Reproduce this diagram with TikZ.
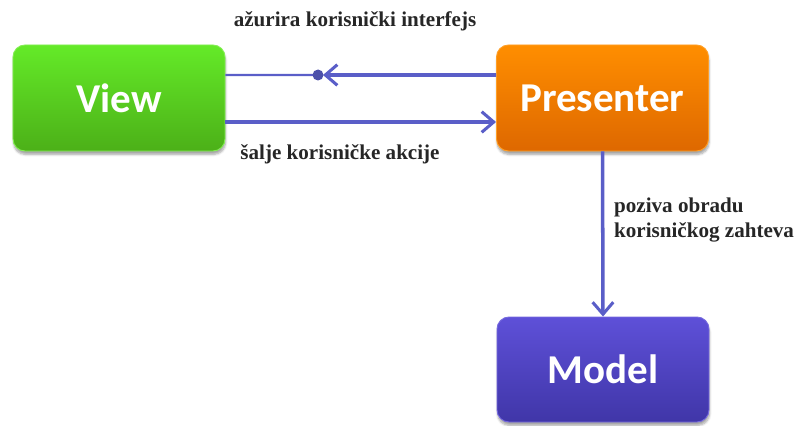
\documentclass[tikz,border=0pt]{standalone}
\usepackage{fontspec}
\setmainfont{Liberation Serif}
\newfontfamily\boxfont{Carlito}
\usetikzlibrary{arrows.meta,shadows.blur,calc}
\definecolor{linecol}{RGB}{90,94,200}
\definecolor{gtop}{RGB}{100,234,40}
\definecolor{gbot}{RGB}{76,176,24}
\definecolor{otop}{RGB}{255,142,0}
\definecolor{obot}{RGB}{222,104,0}
\definecolor{ptop}{RGB}{94,80,216}
\definecolor{pbot}{RGB}{64,54,168}
\tikzset{
  mvpbox/.style={rounded corners=0.36cm, minimum width=6.36cm, minimum height=3.18cm,
    font=\boxfont\bfseries\fontsize{35}{40}\selectfont, text=white,
    blur shadow={shadow xshift=0.5pt, shadow yshift=-3pt, shadow opacity=35, shadow blur steps=6}},
  conn/.style={draw=linecol, line width=2.6pt},
  tipb/.style={-{Straight Barb[length=0.36cm,width=0.62cm,line width=2.6pt]}},
  lbl/.style={font=\bfseries\fontsize{18}{21.5}\selectfont, text=black!85}
}
\begin{document}
\begin{tikzpicture}[x=0.03cm,y=-0.03cm]
\useasboundingbox (0,0) rectangle (795,425);
\node[mvpbox, top color=gtop, bottom color=gbot, draw=gtop!80!white, line width=0.8pt] (V) at (119,98) {View};
\node[mvpbox, top color=otop, bottom color=obot, draw=otop!85!white, line width=0.8pt] (P) at (602.5,98) {Presenter};
\node[mvpbox, top color=ptop, bottom color=pbot, draw=ptop!85!white, line width=0.8pt, minimum height=3.15cm] (M) at (603,369.5) {Model};
\coordinate (dot) at (318,75);
% top: presenter -> view (updates UI)
\draw[conn, line width=3.4pt, tipb, shorten >=0.15cm] ([yshift=0.69cm]P.west) -- (dot);
\draw[conn, line width=2pt] ([yshift=0.69cm]V.east) -- (dot);
\fill[linecol!85!black] (dot) circle (0.165cm);
% bottom: view -> presenter
\draw[conn, tipb] ([yshift=-0.72cm]V.east) -- ([yshift=-0.72cm]P.west);
% vertical: presenter -> model
\draw[conn, line width=3pt, tipb] (P.south) -- (M.north);
\node[lbl] (t1) at (355,21) {ažurira korisnički interfejs};
\node[lbl] (t2) at (340,154) {šalje korisničke akcije};
\node[lbl, anchor=west, align=left] (t3) at (610,220) {poziva obradu\\korisničkog zahteva};
\end{tikzpicture}
\end{document}
